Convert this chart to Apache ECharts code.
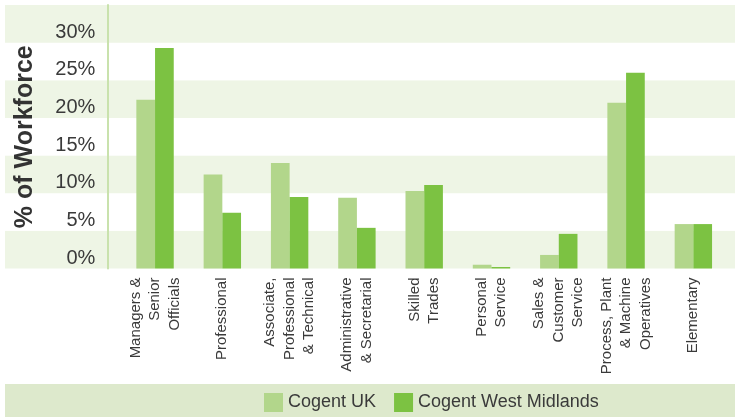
<!DOCTYPE html>
<html>
<head>
<meta charset="utf-8">
<script src="https://cdn.jsdelivr.net/npm/echarts@6/dist/echarts.min.js"></script>
<style>html,body{margin:0;padding:0;background:#fff;}#c{width:735px;height:417px;}</style>
</head>
<body>
<div id="c"></div>
<script>
const categories = [
  'Managers &\nSenior\nOfficials',
  'Professional',
  'Associate,\nProfessional\n& Technical',
  'Administrative\n& Secretarial',
  'Skilled\nTrades',
  'Personal\nService',
  'Sales &\nCustomer\nService',
  'Process, Plant\n& Machine\nOperatives',
  'Elementary'
];
const cogentUK = [22.4, 12.5, 14.0, 9.4, 10.3, 0.5, 1.8, 22.0, 5.9];
const cogentWM = [29.3, 7.4, 9.5, 5.4, 11.1, 0.2, 4.6, 26.0, 5.9];
const yTicks = [0, 5, 10, 15, 20, 25, 30];
const seriesNames = ['Cogent UK', 'Cogent West Midlands'];

const FONT = 'Liberation Sans, Arial, sans-serif';
const chart = echarts.init(document.getElementById('c'));
chart.setOption({
  animation: false,
  textStyle: { fontFamily: FONT },
  graphic: [{
    type: 'rect', left: 5, top: 384, z: -10,
    shape: { width: 730, height: 33 },
    style: { fill: '#dde9cc' }
  }],
  grid: [
    { left: 5, right: 0, top: 5, bottom: 148.5 },
    { left: 121.4, right: 8, top: 5, bottom: 148.5 }
  ],
  legend: {
    data: seriesNames,
    left: 264, top: 393, padding: 0,
    itemWidth: 19, itemHeight: 19, itemGap: 18,
    icon: 'rect',
    textStyle: { fontSize: 18, color: '#3a3a3a', fontFamily: FONT }
  },
  xAxis: [
    { gridIndex: 0, type: 'value', min: 0, max: 1, show: false },
    {
      gridIndex: 1, type: 'category', data: categories,
      axisLine: { show: false }, axisTick: { show: false },
      axisLabel: {
        rotate: 90, margin: 9, fontSize: 15, lineHeight: 19.5,
        color: '#3a3a3a', fontFamily: FONT, interval: 0
      }
    }
  ],
  yAxis: [
    {
      gridIndex: 0, type: 'value', min: 0, max: 35, interval: 5,
      axisLine: { show: false }, axisTick: { show: false }, axisLabel: { show: false },
      splitLine: { show: false },
      splitArea: { show: true, areaStyle: { color: ['#eef5e5', '#ffffff'] } }
    },
    {
      gridIndex: 1, type: 'value', min: 0, max: 35, interval: 5,
      offset: 14,
      axisLine: { show: true, lineStyle: { color: '#c9e2ad', width: 2 } },
      axisTick: { show: false },
      splitLine: { show: false },
      axisLabel: {
        margin: 12, fontSize: 20, color: '#3a3a3a', fontFamily: FONT,
        verticalAlign: 'bottom', lineHeight: 21,
        formatter: v => yTicks.indexOf(v) >= 0 ? v + '%' : ''
      },
      name: '% of Workforce',
      nameLocation: 'middle', nameRotate: 90, nameGap: 70,
      nameTextStyle: { fontSize: 25, fontWeight: 'bold', color: '#333', fontFamily: FONT }
    }
  ],
  series: [
    { name: seriesNames[0], type: 'bar', xAxisIndex: 1, yAxisIndex: 1, data: cogentUK,
      barWidth: 18.7, barGap: '0%', itemStyle: { color: '#b2d68b' } },
    { name: seriesNames[1], type: 'bar', xAxisIndex: 1, yAxisIndex: 1, data: cogentWM,
      barWidth: 18.7, barGap: '0%', itemStyle: { color: '#7cc242' } }
  ]
});
</script>
</body>
</html>
